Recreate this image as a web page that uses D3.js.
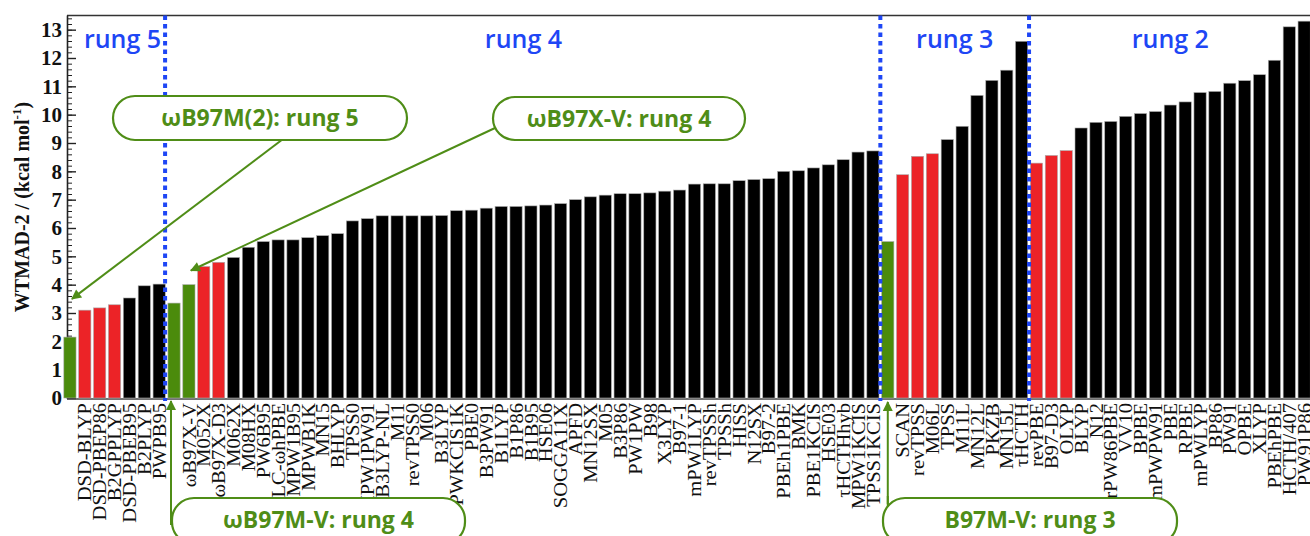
<!DOCTYPE html>
<html>
<head>
<meta charset="utf-8">
<script src="https://cdn.jsdelivr.net/npm/d3@7"></script>
<style>
	body { margin: 0; background: #fff; }
	#content { width: 1310px; height: 536px; overflow: hidden; }
</style>
</head>
<body>
<div id="content"></div>
<script>
// WTMAD-2 per functional, grouped by rung (left to right as in the figure)
var rung5Names = ["ωB97M(2)", "DSD-BLYP", "DSD-PBEP86", "B2GPPLYP", "DSD-PBEB95", "B2PLYP", "PWPB95"];
var rung5Values = [2.15, 3.10, 3.18, 3.29, 3.53, 3.96, 4.02];
var rung5Kinds = ["g", "r", "r", "r", "k", "k", "k"];

var rung4Names = ["ωB97M-V", "ωB97X-V", "M052X", "ωB97X-D3", "M062X", "M08HX", "PW6B95", "LC-ωhPBE",
	"MPW1B95", "MPWB1K", "MN15", "BHLYP", "TPSS0", "MPW1PW91", "B3LYP-NL", "M11", "revTPSS0", "M06",
	"B3LYP", "PWKCIS1K", "PBE0", "B3PW91", "B1LYP", "B1P86", "B1B95", "HSE06", "SOGGA11X", "APFD",
	"MN12SX", "M05", "B3P86", "PW1PW", "B98", "X3LYP", "B97-1", "mPW1LYP", "revTPSSh", "TPSSh",
	"HISS", "N12SX", "B97-2", "PBEh1PBE", "BMK", "PBE1KCIS", "HSE03", "τHCTHhyb", "MPW1KCIS", "TPSS1KCIS"];
var rung4Values = [3.35, 4.00, 4.64, 4.79, 4.96, 5.32, 5.52, 5.58,
	5.58, 5.66, 5.73, 5.80, 6.25, 6.33, 6.43, 6.43, 6.43, 6.43,
	6.44, 6.61, 6.63, 6.70, 6.76, 6.76, 6.78, 6.81, 6.86, 7.00,
	7.10, 7.16, 7.21, 7.21, 7.24, 7.30, 7.34, 7.55, 7.56, 7.56,
	7.67, 7.71, 7.74, 8.00, 8.02, 8.12, 8.23, 8.41, 8.68, 8.72];
var rung4Kinds = ["g", "g", "r", "r"];

var rung3Names = ["B97M-V", "SCAN", "revTPSS", "M06L", "TPSS", "M11L", "MN12L", "PKZB", "MN15L", "τHCTH"];
var rung3Values = [5.52, 7.88, 8.53, 8.62, 9.12, 9.59, 10.68, 11.21, 11.57, 12.59];
var rung3Kinds = ["g", "r", "r", "r"];

var rung2Names = ["revPBE", "B97-D3", "OLYP", "BLYP", "N12", "rPW86PBE", "VV10", "BPBE", "mPWPW91",
	"PBE", "RPBE", "mPWLYP", "BP86", "PW91", "OPBE", "XLYP", "PBEhPBE", "HCTH/407", "PW91P86"];
var rung2Values = [8.29, 8.56, 8.73, 9.53, 9.73, 9.76, 9.94, 10.04, 10.11,
	10.34, 10.45, 10.78, 10.82, 11.11, 11.20, 11.41, 11.92, 13.10, 13.30];
var rung2Kinds = ["r", "r", "r"];

var rungLabels = ["rung 5", "rung 4", "rung 3", "rung 2"];
var yTicks = [0, 1, 2, 3, 4, 5, 6, 7, 8, 9, 10, 11, 12, 13];

// highlighted functionals shown in boxes; the first of each rung has no axis label
var boxedNames = ["ωB97M(2)", "ωB97X-V", "ωB97M-V", "B97M-V"];
var boxedTexts = ["ωB97M(2): rung 5", "ωB97X-V: rung 4", "ωB97M-V: rung 4", "B97M-V: rung 3"];
var unlabeled = ["ωB97M(2)", "ωB97M-V", "B97M-V"];

var kindColor = { g: "#4b8b0c", r: "#ec2327", k: "#000000" };
var green = "#4f8d17";
var blue = "#1e46f5";

function main() {
	var svg = d3.select("#content").append("svg")
		.attr("width", 1310)
		.attr("height", 536);

	var rungs = [
		{ names: rung5Names, values: rung5Values, kinds: rung5Kinds },
		{ names: rung4Names, values: rung4Values, kinds: rung4Kinds },
		{ names: rung3Names, values: rung3Values, kinds: rung3Kinds },
		{ names: rung2Names, values: rung2Values, kinds: rung2Kinds }
	];

	var bars = [];
	rungs.forEach(function (r, ri) {
		r.names.forEach(function (n, i) {
			bars.push({ name: n, value: r.values[i], kind: r.kinds[i] || "k", rung: ri });
		});
	});

	var left = 67, top = 15.5, bottom = 398;
	var x = d3.scaleBand()
		.domain(bars.map(function (d) { return d.name; }))
		.range([62.5, 62.5 + bars.length * 14.87])
		.paddingInner(0.18)
		.paddingOuter(0.09);
	var y = d3.scaleLinear().domain([0, 13.5]).range([bottom, top]);
	var step = x.step();

	// frame
	svg.append("line").attr("x1", left).attr("x2", 1310).attr("y1", top).attr("y2", top)
		.attr("stroke", "#333").attr("stroke-width", 1.6);
	svg.append("line").attr("x1", left).attr("x2", 1310).attr("y1", bottom + 1).attr("y2", bottom + 1)
		.attr("stroke", "#444").attr("stroke-width", 1.4);

	// y axis with inward ticks
	var minor = d3.range(0, 13.5, 0.2);
	svg.append("g")
		.attr("transform", "translate(" + left + ",0)")
		.call(d3.axisLeft(y).tickValues(minor).tickSize(-5).tickFormat(""))
		.call(function (g) { g.select(".domain").remove(); })
		.selectAll("line").attr("stroke", "#222").attr("stroke-width", 1);
	var yAxis = svg.append("g")
		.attr("transform", "translate(" + left + ",0)")
		.call(d3.axisLeft(y).tickValues(yTicks).tickSize(-9).tickPadding(5).tickFormat(d3.format("d")));
	yAxis.select(".domain").attr("stroke", "#222").attr("stroke-width", 1.6)
		.attr("d", "M0.5," + top + "V" + (bottom + 1));
	yAxis.selectAll("line").attr("stroke", "#222").attr("stroke-width", 1.4);
	yAxis.selectAll("text")
		.attr("font-family", "'Liberation Serif', serif")
		.attr("font-weight", "bold")
		.attr("font-size", 21)
		.attr("fill", "#111");

	// y label
	var yl = svg.append("text")
		.attr("transform", "translate(29,207) rotate(-90)")
		.attr("text-anchor", "middle")
		.attr("font-family", "'Liberation Serif', serif")
		.attr("font-weight", "bold")
		.attr("font-size", 20)
		.attr("fill", "#111");
	yl.append("tspan").text("WTMAD-2 / (kcal mol");
	yl.append("tspan").attr("font-size", 13).attr("dy", -8).text("-1");
	yl.append("tspan").attr("dy", 8).text(")");

	// bars
	svg.append("g").selectAll("rect")
		.data(bars)
		.enter().append("rect")
		.attr("x", function (d) { return x(d.name); })
		.attr("y", function (d) { return y(d.value); })
		.attr("width", x.bandwidth())
		.attr("height", function (d) { return y(0) - y(d.value); })
		.attr("fill", function (d) { return kindColor[d.kind]; })
		.attr("stroke", "#aaa")
		.attr("stroke-width", 0.6);

	// x labels
	svg.append("g").selectAll("text")
		.data(bars.filter(function (d) { return unlabeled.indexOf(d.name) < 0; }))
		.enter().append("text")
		.attr("transform", function (d) {
			return "translate(" + (x(d.name) + x.bandwidth() / 2) + "," + (bottom + 5) + ") rotate(-90) scale(1.08,1)";
		})
		.attr("dy", "0.35em")
		.attr("text-anchor", "end")
		.attr("font-family", "'Liberation Serif', serif")
		.attr("font-size", 19)
		.attr("fill", "#111")
		.text(function (d) { return d.name; });

	// rung separators and labels
	var starts = [0];
	rungs.forEach(function (r, i) { starts.push(starts[i] + r.names.length); });
	var x0 = x.range()[0];
	for (var k = 1; k < rungs.length; k++) {
		var sx = x0 + starts[k] * step - (k === 1 ? 1.5 : 0);
		svg.append("line")
			.attr("x1", sx).attr("x2", sx).attr("y1", top).attr("y2", bottom + 3)
			.attr("stroke", blue).attr("stroke-width", 4)
			.attr("stroke-dasharray", "4.5,4");
	}
	rungLabels.forEach(function (t, k) {
		var a = x0 + starts[k] * step, b = Math.min(x0 + starts[k + 1] * step, 1312);
		if (k === 0) a = a + 16;
		svg.append("text")
			.attr("x", (a + b) / 2).attr("y", 48)
			.attr("text-anchor", "middle")
			.attr("font-family", "'Open Sans', sans-serif")
			.attr("font-weight", 600)
			.attr("font-size", 25)
			.attr("fill", blue)
			.text(t);
	});

	// annotations
	svg.append("defs").append("marker")
		.attr("id", "arrow")
		.attr("viewBox", "0 0 10 10")
		.attr("refX", 9).attr("refY", 5)
		.attr("markerWidth", 6).attr("markerHeight", 5)
		.attr("markerUnits", "strokeWidth")
		.attr("orient", "auto")
		.append("path").attr("d", "M0,0L10,5L0,10z").attr("fill", green);

	var cx = function (n) { return x(n) + x.bandwidth() / 2; };
	var notes = [
		{ box: [113, 96, 294, 44], from: [287, 136], to: [cx(boxedNames[0]) + 2, y(3.5)] },
		{ box: [493, 97, 252, 43], from: [495, 128], to: [cx(boxedNames[1]) + 2, y(4.5)] },
		{ box: [172, 498, 293, 46], from: [cx(boxedNames[2]) - 3, 525], to: [cx(boxedNames[2]) - 3, 401] },
		{ box: [883, 498, 294, 46], from: [cx(boxedNames[3]), 525], to: [cx(boxedNames[3]), 402] }
	];
	notes.forEach(function (n) {
		svg.append("line")
			.attr("x1", n.from[0]).attr("y1", n.from[1])
			.attr("x2", n.to[0]).attr("y2", n.to[1])
			.attr("stroke", green).attr("stroke-width", 2)
			.attr("marker-end", "url(#arrow)");
	});
	notes.forEach(function (n, i) {
		svg.append("rect")
			.attr("x", n.box[0]).attr("y", n.box[1])
			.attr("width", n.box[2]).attr("height", n.box[3])
			.attr("rx", 22).attr("ry", 22)
			.attr("fill", "#fff")
			.attr("stroke", green).attr("stroke-width", 2.2);
		svg.append("text")
			.attr("x", n.box[0] + n.box[2] / 2)
			.attr("y", n.box[1] + 30)
			.attr("text-anchor", "middle")
			.attr("font-family", "'Open Sans', sans-serif")
			.attr("font-weight", "bold")
			.attr("font-size", 23)
			.attr("fill", green)
			.text(boxedTexts[i]);
	});
	// vertical arrows start inside the lower boxes, redraw their stems above the box edge
	notes.slice(2).forEach(function (n) {
		svg.append("line")
			.attr("x1", n.from[0]).attr("y1", n.box[1] + 6)
			.attr("x2", n.from[0]).attr("y2", n.box[1] - 2)
			.attr("stroke", green).attr("stroke-width", 2);
	});
}

(() => {
	main();
})()
</script>
</body>
</html>
